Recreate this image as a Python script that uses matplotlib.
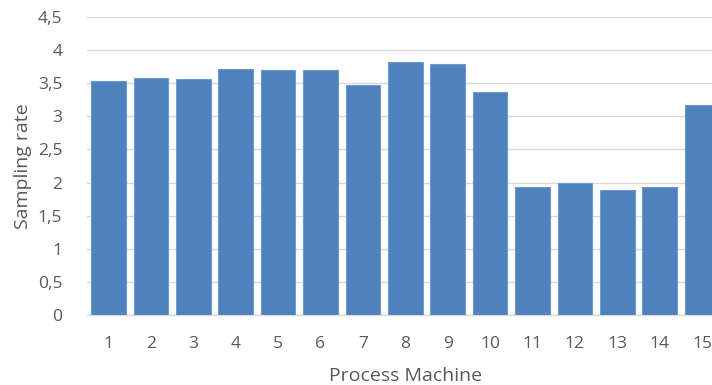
import matplotlib
matplotlib.use("Agg")
import matplotlib.pyplot as plt
from matplotlib.ticker import FuncFormatter, MultipleLocator

# Data
machines = [str(i) for i in range(1, 16)]
sampling_rate = [3.53, 3.58, 3.56, 3.71, 3.70, 3.70, 3.47, 3.82, 3.79, 3.36,
                 1.94, 2.00, 1.89, 1.94, 3.17]

plt.rcParams["font.family"] = ["Open Sans", "DejaVu Sans"]
text_grey = "#595959"

fig = plt.figure(figsize=(7.12, 3.85), dpi=100)
ax = fig.add_axes([87.3 / 712, 70 / 385, 636 / 712, 298 / 385])

x = range(len(machines))
ax.bar(x, sampling_rate, width=0.82, color="#4F81BD", edgecolor="#6f98cc",
       linewidth=0.8, zorder=3)

ax.set_xlim(-0.5, len(machines) - 0.5)
ax.set_ylim(0, 4.5)
ax.yaxis.set_major_locator(MultipleLocator(0.5))
ax.yaxis.set_major_formatter(FuncFormatter(lambda v, p: f"{v:g}".replace(".", ",")))
ax.set_xticks(list(x))
ax.set_xticklabels(machines)

ax.grid(axis="y", color="#d9d9d9", linewidth=1, zorder=0)
for s in ["top", "right", "left"]:
    ax.spines[s].set_visible(False)
ax.spines["bottom"].set_color("#d9d9d9")
ax.spines["bottom"].set_linewidth(1)
ax.tick_params(axis="both", length=0, colors=text_grey, labelsize=12.5)
ax.tick_params(axis="x", pad=15)
ax.tick_params(axis="y", pad=18)

ax.set_xlabel("Process Machine", fontsize=14, color=text_grey, labelpad=11)
ax.set_ylabel("Sampling rate", fontsize=14, color=text_grey, labelpad=4)

fig.savefig("out.png", dpi=100)
